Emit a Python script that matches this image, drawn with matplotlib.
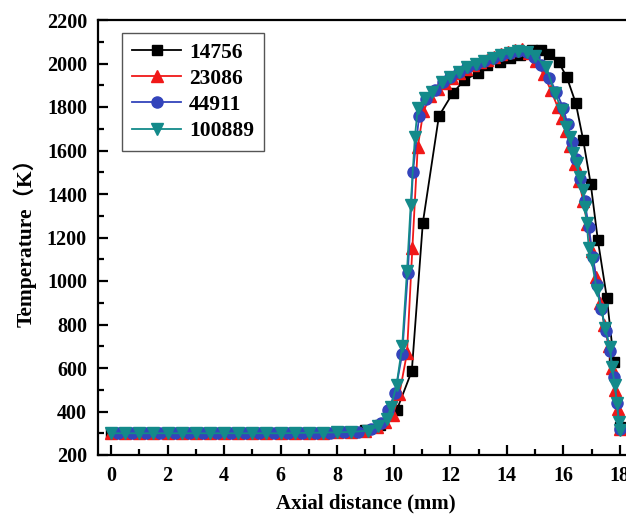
import matplotlib.pyplot as plt
from matplotlib.ticker import MultipleLocator

# Axial temperature profiles for four cases
labels = ['14756', '23086', '44911', '100889']

flat_x_a = [0.0, 0.5, 1.0, 1.5, 2.0, 2.5, 3.0, 3.5, 4.0, 4.5, 5.0, 5.5, 6.0, 6.5, 7.0, 7.5, 8.0, 8.5]
flat_x_b = [0.25, 0.75, 1.25, 1.75, 2.25, 2.75, 3.25, 3.75, 4.25, 4.75, 5.25, 5.75, 6.25, 6.75, 7.25, 7.75, 8.25, 8.75]
flat_y = [300, 300, 300, 300, 300, 300, 300, 300, 300, 300, 300, 300, 300, 301, 302, 303, 304, 306]

x_14756 = flat_x_a + [9.0, 9.5, 10.11, 10.64, 11.03, 11.6, 12.09, 12.5, 12.98, 13.3, 13.75,
                      14.1, 14.46, 14.9, 15.2, 15.5, 15.84, 16.12, 16.44, 16.7, 16.97, 17.22,
                      17.54, 17.79, 18.0]
y_14756 = flat_y + [316, 338, 407, 586, 1267, 1759, 1864, 1924, 1956, 1993, 2007,
                    2025, 2040, 2060, 2062, 2045, 2005, 1938, 1818, 1650, 1446, 1189,
                    922, 628, 330]

x_23086 = flat_x_a + [9.0, 9.4, 9.7, 9.97, 10.2, 10.47, 10.66, 10.85, 11.05, 11.3, 11.55, 11.8,
                      12.05, 12.3, 12.55, 12.8, 13.05, 13.3, 13.55, 13.8, 14.05, 14.3, 14.55,
                      14.8, 15.05, 15.3, 15.55, 15.8, 15.95, 16.1, 16.25, 16.4, 16.55, 16.7,
                      16.85, 17.0, 17.15, 17.3, 17.45, 17.6, 17.72, 17.84, 17.94, 18.0]
y_23086 = flat_y + [312, 330, 350, 384, 480, 669, 1150, 1616, 1780, 1850, 1885, 1910,
                    1935, 1955, 1975, 1992, 2005, 2018, 2030, 2042, 2052, 2062, 2066,
                    2050, 2010, 1950, 1880, 1800, 1750, 1690, 1620, 1540, 1460, 1370,
                    1260, 1140, 1020, 900, 800, 700, 600, 500, 410, 320]

x_44911 = flat_x_b + [9.2, 9.55, 9.8, 10.05, 10.3, 10.5, 10.68, 10.9, 11.15, 11.45, 11.75,
                      12.0, 12.3, 12.6, 12.9, 13.2, 13.5, 13.8, 14.1, 14.4, 14.7, 14.95,
                      15.2, 15.5, 15.75, 16.0, 16.15, 16.3, 16.45, 16.6, 16.75, 16.9, 17.05,
                      17.2, 17.35, 17.5, 17.65, 17.78, 17.9, 18.0]
y_44911 = flat_y + [318, 345, 407, 485, 664, 1037, 1501, 1760, 1835, 1880, 1915,
                    1940, 1962, 1982, 1998, 2012, 2025, 2038, 2048, 2058, 2055, 2030,
                    1995, 1935, 1870, 1795, 1720, 1640, 1560, 1470, 1370, 1250, 1110,
                    980, 870, 770, 680, 560, 440, 320]

x_100889 = flat_x_a + [9.1, 9.45, 9.75, 9.9, 10.1, 10.3, 10.47, 10.6, 10.75, 10.85, 11.1,
                       11.35, 11.7, 12.0, 12.3, 12.6, 12.9, 13.2, 13.5, 13.8, 14.1, 14.4,
                       14.7, 15.0, 15.4, 15.7, 15.95, 16.1, 16.23, 16.34, 16.48, 16.58,
                       16.69, 16.76, 16.83, 16.9, 17.0, 17.18, 17.36, 17.47, 17.65, 17.72,
                       17.82, 17.89, 17.96, 18.0]
y_100889 = flat_y + [312, 332, 365, 420, 522, 700, 1046, 1350, 1662, 1795, 1840,
                     1869, 1915, 1940, 1962, 1982, 1998, 2012, 2025, 2038, 2048, 2058,
                     2053, 2035, 1984, 1864, 1786, 1708, 1662, 1588, 1543, 1478,
                     1418, 1340, 1267, 1150, 1097, 959, 867, 784, 697, 605,
                     522, 439, 352, 315]

series_x = [x_14756, x_23086, x_44911, x_100889]
series_y = [y_14756, y_23086, y_44911, y_100889]
colors = ['#000000', '#f01818', '#3344bb', '#138a8a']
markers = ['s', '^', 'o', 'v']

plt.rcParams['font.family'] = ['Liberation Serif', 'Noto Sans CJK SC']
plt.rcParams['font.weight'] = 'bold'

fig = plt.figure(figsize=(6.26, 5.19), dpi=100)
ax = fig.add_axes([98 / 626, 64 / 519, 536 / 626, 435 / 519])

for x, y, c, m, lab in zip(series_x, series_y, colors, markers, labels):
    ax.plot(x, y, color=c, marker=m, markersize=8 if m != 's' else 7,
            linewidth=1.3, label=lab)

ax.set_xlim(-0.46, 18.5)
ax.set_ylim(200, 2200)
ax.xaxis.set_major_locator(MultipleLocator(2))
ax.xaxis.set_minor_locator(MultipleLocator(1))
ax.yaxis.set_major_locator(MultipleLocator(200))
ax.yaxis.set_minor_locator(MultipleLocator(100))
ax.tick_params(which='both', direction='in', top=False, right=False, width=1.6)
ax.tick_params(which='major', length=7, labelsize=14.5, pad=8)
ax.tick_params(which='minor', length=4)
for lab in ax.get_xticklabels() + ax.get_yticklabels():
    lab.set_fontweight('bold')
for spine in ax.spines.values():
    spine.set_linewidth(1.6)

ax.set_xlabel('Axial distance (mm)', fontsize=15, fontweight='bold', labelpad=5)
ax.set_ylabel('Temperature（K）', fontsize=15.5, fontweight='bold', labelpad=7)

leg = ax.legend(loc='upper left', bbox_to_anchor=(0.045, 0.97), borderaxespad=0,
                fancybox=False, framealpha=1, edgecolor='#555555',
                prop={'size': 15.5, 'weight': 'bold'}, handlelength=2.3,
                labelspacing=0.28, handletextpad=0.35, borderpad=0.45)
leg.get_frame().set_linewidth(1.0)

fig.savefig('out.png', dpi=100)
